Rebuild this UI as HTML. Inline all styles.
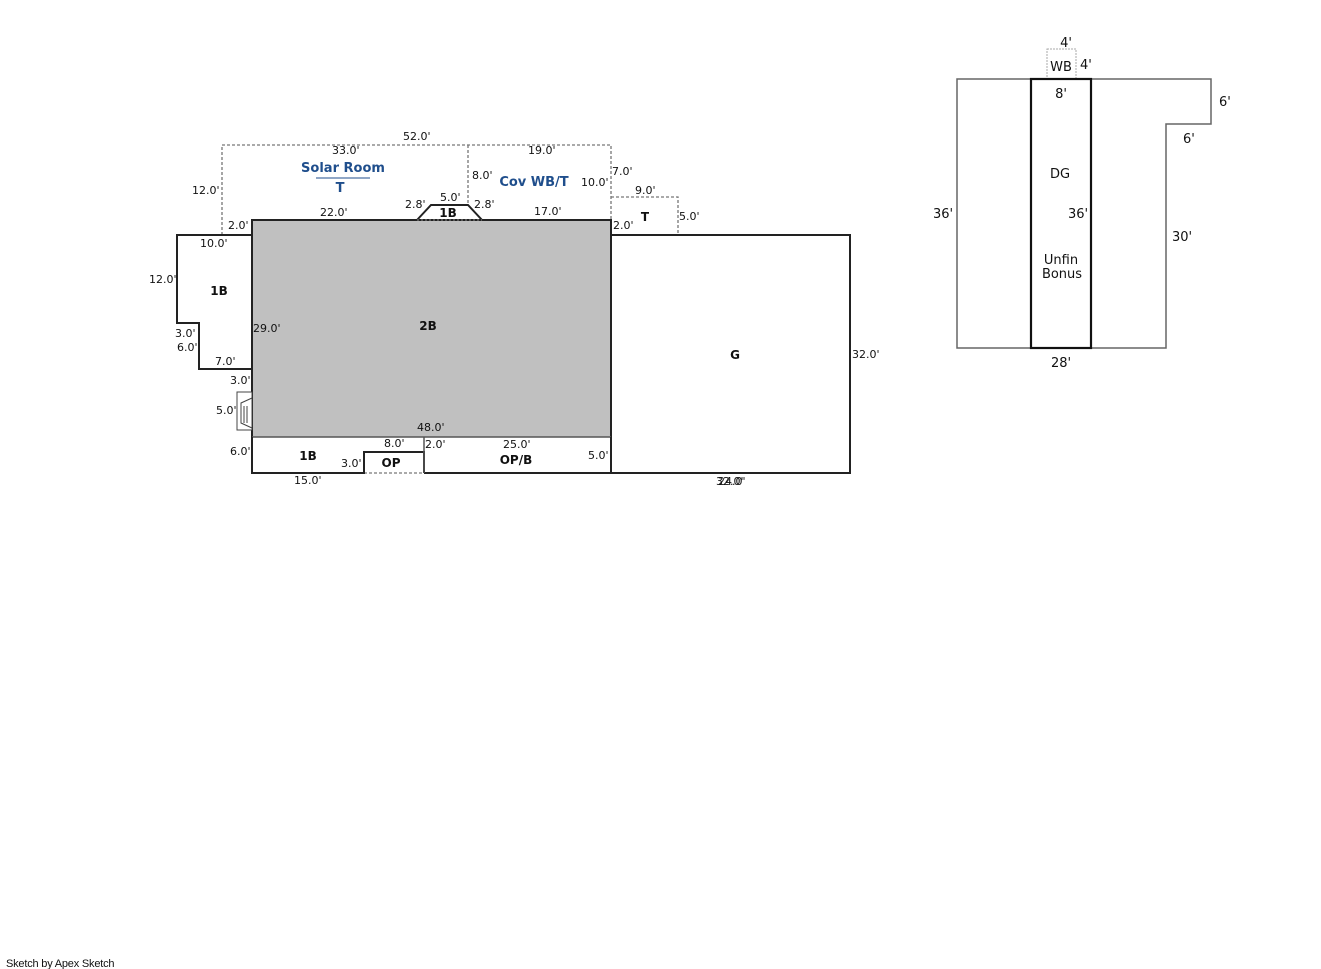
<!DOCTYPE html>
<html><head><meta charset="utf-8"><style>
html,body{margin:0;padding:0;background:#fff;width:1321px;height:969px;overflow:hidden}
svg{display:block}
text{font-family:"DejaVu Sans","Liberation Sans",sans-serif;font-size:11px;fill:#111}
.b{font-weight:bold;font-size:12px}
.bl{fill:#1f4e8c;font-weight:bold;font-size:13px}
.r{font-size:13px}
</style></head><body>
<svg width="1321" height="969" viewBox="0 0 1321 969">
<g fill="none" stroke="#777" stroke-width="1.3" stroke-dasharray="3,2">
<polyline points="222,235 222,145 611,145 611,220"/>
<line x1="468" y1="145" x2="468" y2="205"/>
<polyline points="611,197 678,197 678,235"/>
<line x1="364" y1="473" x2="424" y2="473"/>
</g>
<rect x="252" y="220" width="359" height="217" fill="#c0c0c0" stroke="none"/>
<g fill="none" stroke="#222" stroke-width="2">
<polyline points="252,437 252,220 611,220 611,437"/>
</g>
<line x1="252" y1="437" x2="611" y2="437" stroke="#555" stroke-width="1.5"/>
<polygon points="417,220 431,205 468,205 482,220" fill="#fff" stroke="#222" stroke-width="2"/>
<line x1="417" y1="220" x2="482" y2="220" stroke="#888" stroke-width="1" stroke-dasharray="2,2"/>
<polyline points="252,235 177,235 177,323 199,323 199,369 252,369" fill="none" stroke="#222" stroke-width="2"/>
<rect x="237" y="392" width="15" height="38" fill="#fff" stroke="#444" stroke-width="1"/>
<polyline points="252,398 241,403 241,423 252,428" fill="none" stroke="#444" stroke-width="1"/>
<line x1="244" y1="406" x2="244" y2="423" stroke="#444"/><line x1="247" y1="406" x2="247" y2="423" stroke="#444"/>
<g fill="none" stroke="#222" stroke-width="2">
<polyline points="252,437 252,473 364,473 364,452 424,452 424,473"/>
<line x1="424" y1="473" x2="611" y2="473"/>
<line x1="611" y1="437" x2="611" y2="473"/>
</g>
<line x1="424" y1="437" x2="424" y2="473" stroke="#555" stroke-width="1.5"/>
<polyline points="611,235 850,235 850,473 611,473 611,437" fill="none" stroke="#222" stroke-width="2"/>
<text x="403" y="140">52.0'</text>
<text x="332" y="154">33.0'</text>
<text x="528" y="154">19.0'</text>
<text class="bl" x="343" y="172" text-anchor="middle">Solar Room</text>
<line x1="316" y1="178" x2="370" y2="178" stroke="#1f4e8c" stroke-width="1"/>
<text class="bl" x="340" y="192" text-anchor="middle">T</text>
<text class="bl" x="534" y="186" text-anchor="middle">Cov WB/T</text>
<text x="472" y="179">8.0'</text>
<text x="581" y="186">10.0'</text>
<text x="612" y="175">7.0'</text>
<text x="192" y="194">12.0'</text>
<text x="405" y="208">2.8'</text>
<text x="440" y="201">5.0'</text>
<text x="474" y="208">2.8'</text>
<text class="b" x="448" y="217" text-anchor="middle">1B</text>
<text x="320" y="216">22.0'</text>
<text x="534" y="215">17.0'</text>
<text x="228" y="229">2.0'</text>
<text x="200" y="247">10.0'</text>
<text x="613" y="229">2.0'</text>
<text x="635" y="194">9.0'</text>
<text class="b" x="645" y="221" text-anchor="middle">T</text>
<text x="679" y="220">5.0'</text>
<text x="149" y="283">12.0'</text>
<text class="b" x="219" y="295" text-anchor="middle">1B</text>
<text x="253" y="332">29.0'</text>
<text class="b" x="428" y="330" text-anchor="middle">2B</text>
<text x="175" y="337">3.0'</text>
<text x="177" y="351">6.0'</text>
<text x="215" y="365">7.0'</text>
<text x="230" y="384">3.0'</text>
<text x="216" y="414">5.0'</text>
<text x="417" y="431">48.0'</text>
<text x="230" y="455">6.0'</text>
<text x="384" y="447">8.0'</text>
<text x="425" y="448">2.0'</text>
<text x="503" y="448">25.0'</text>
<text class="b" x="308" y="460" text-anchor="middle">1B</text>
<text x="341" y="467">3.0'</text>
<text class="b" x="391" y="467" text-anchor="middle">OP</text>
<text class="b" x="516" y="464" text-anchor="middle">OP/B</text>
<text x="588" y="459">5.0'</text>
<text class="b" x="735" y="359" text-anchor="middle">G</text>
<text x="852" y="358">32.0'</text>
<text x="294" y="484">15.0'</text>
<text x="716" y="485">32.0'</text>
<text x="718" y="485">24.0'</text>
<rect x="1047" y="49" width="29" height="30" fill="none" stroke="#aaa" stroke-width="1" stroke-dasharray="2,1"/>
<polyline points="1031,79 957,79 957,348 1166,348 1166,124 1211,124 1211,79 1091,79" fill="none" stroke="#666" stroke-width="1.5"/>
<rect x="1031" y="79" width="60" height="269" fill="none" stroke="#111" stroke-width="2.2"/>
<text class="r" x="1066" y="47" text-anchor="middle">4'</text>
<text class="r" x="1061" y="71" text-anchor="middle">WB</text>
<text class="r" x="1080" y="69">4'</text>
<text class="r" x="1061" y="98" text-anchor="middle">8'</text>
<text class="r" x="1219" y="106">6'</text>
<text class="r" x="1183" y="143">6'</text>
<text class="r" x="1060" y="178" text-anchor="middle">DG</text>
<text class="r" x="933" y="218">36'</text>
<text class="r" x="1068" y="218">36'</text>
<text class="r" x="1172" y="241">30'</text>
<text class="r" x="1061" y="264" text-anchor="middle">Unfin</text>
<text class="r" x="1062" y="278" text-anchor="middle">Bonus</text>
<text class="r" x="1061" y="367" text-anchor="middle">28'</text>
<text x="6" y="967" style="font-size:11px;font-family:'Liberation Sans',sans-serif;letter-spacing:-0.2px">Sketch by Apex Sketch</text>
</svg>
</body></html>
